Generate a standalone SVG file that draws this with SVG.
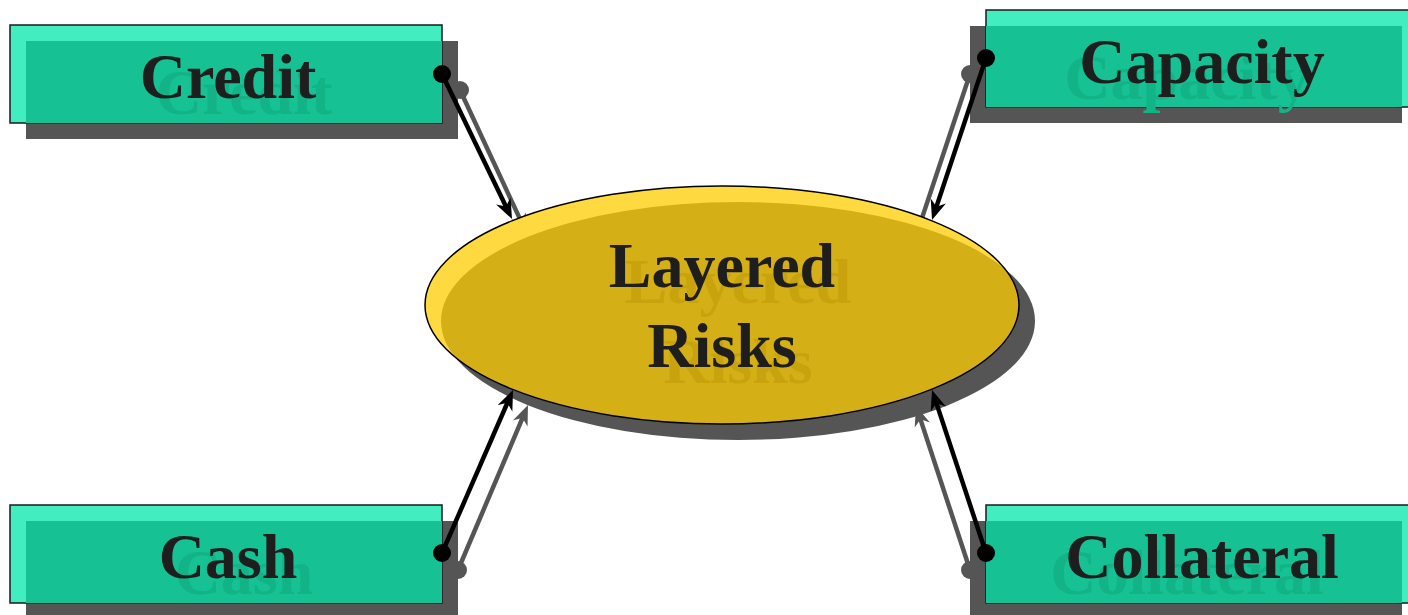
<svg xmlns="http://www.w3.org/2000/svg" width="1408" height="615" viewBox="0 0 1408 615">
<style>
.shadow{fill:#555555}
.box{fill:#42EDC0;stroke:#1a1a1a;stroke-width:1.5}
.inner{fill:#16C194}
.lbl{font-family:"Liberation Serif","Times New Roman",serif;font-weight:bold;font-size:64px;text-anchor:middle;fill:#1E1E1E}
.lblsh{font-family:"Liberation Serif","Times New Roman",serif;font-weight:bold;font-size:64px;text-anchor:middle;fill:#12B387}
.elsh{font-family:"Liberation Serif","Times New Roman",serif;font-weight:bold;font-size:64px;text-anchor:middle;fill:#C8A30E}
.cb{stroke:#000;stroke-width:4.5;fill:none;marker-end:url(#ab)}
.cg{stroke:#555;stroke-width:4.5;fill:none;marker-end:url(#ag)}
</style>
<defs>
<marker id="ab" markerUnits="userSpaceOnUse" markerWidth="22" markerHeight="18" refX="8" refY="8" orient="auto">
<path d="M0,0 L20,8 L0,16 L6,8 Z" fill="#000"/>
</marker>
<marker id="ag" markerUnits="userSpaceOnUse" markerWidth="22" markerHeight="18" refX="8" refY="8" orient="auto">
<path d="M0,0 L20,8 L0,16 L6,8 Z" fill="#555"/>
</marker>
<clipPath id="ellclip"><ellipse cx="722" cy="305" rx="297" ry="119"/></clipPath>
</defs>
<g id="connector-shadows">
<line class="cg" x1="460" y1="90" x2="521.9" y2="223.1"/>
<circle cx="460" cy="90" r="9" fill="#555"/>
<line class="cg" x1="970" y1="74" x2="919.8" y2="224.6"/>
<circle cx="970" cy="74" r="9" fill="#555"/>
<line class="cg" x1="458" y1="570" x2="523.3" y2="416.1"/>
<circle cx="458" cy="570" r="9" fill="#555"/>
<line class="cg" x1="970" y1="570" x2="919.8" y2="417.4"/>
<circle cx="970" cy="570" r="9" fill="#555"/>
</g>
<g id="credit">
<rect class="shadow" x="26" y="41" width="432" height="98"/>
<rect class="box" x="10" y="25" width="432" height="98"/>
<rect class="inner" x="26" y="41" width="416" height="82"/>
<text class="lblsh" x="244" y="114">Credit</text>
<text class="lbl" x="228" y="98">Credit</text>
</g>
<g id="capacity">
<rect class="shadow" x="970" y="26" width="432" height="97"/>
<rect class="box" x="986" y="10" width="432" height="97"/>
<rect class="inner" x="986" y="26" width="416" height="81"/>
<text class="lblsh" x="1187" y="99">Capacity</text>
<text class="lbl" x="1202" y="83">Capacity</text>
</g>
<g id="cash">
<rect class="shadow" x="26" y="521" width="432" height="98"/>
<rect class="box" x="10" y="505" width="432" height="98"/>
<rect class="inner" x="26" y="521" width="416" height="82"/>
<text class="lblsh" x="244" y="594">Cash</text>
<text class="lbl" x="228" y="578">Cash</text>
</g>
<g id="collateral">
<rect class="shadow" x="970" y="521" width="432" height="98"/>
<rect class="box" x="986" y="505" width="432" height="98"/>
<rect class="inner" x="986" y="521" width="416" height="82"/>
<text class="lblsh" x="1187" y="594">Collateral</text>
<text class="lbl" x="1202" y="578">Collateral</text>
</g>
<g id="layered-risks">
<ellipse cx="738" cy="321" rx="297" ry="119" fill="#555555"/>
<ellipse cx="722" cy="305" rx="297" ry="119" fill="#FFD940"/>
<ellipse cx="738" cy="321" rx="297" ry="119" fill="#D4AF16" clip-path="url(#ellclip)"/>
<ellipse cx="722" cy="305" rx="297" ry="119" fill="none" stroke="#000" stroke-width="1.5"/>
<text class="elsh" x="738" y="303">Layered</text>
<text class="elsh" x="738" y="383">Risks</text>
<text class="lbl" x="722" y="287">Layered</text>
<text class="lbl" x="722" y="367">Risks</text>
</g>
<g id="connectors">
<line class="cb" x1="442" y1="74" x2="506.8" y2="208.2"/>
<circle cx="442" cy="74" r="9" fill="#000"/>
<line class="cb" x1="986" y1="58" x2="935.8" y2="208.6"/>
<circle cx="986" cy="58" r="9" fill="#000"/>
<line class="cb" x1="442" y1="553" x2="508.2" y2="401"/>
<circle cx="442" cy="553" r="9" fill="#000"/>
<line class="cb" x1="986" y1="553" x2="935.8" y2="401.4"/>
<circle cx="986" cy="553" r="9" fill="#000"/>
</g>
</svg>
